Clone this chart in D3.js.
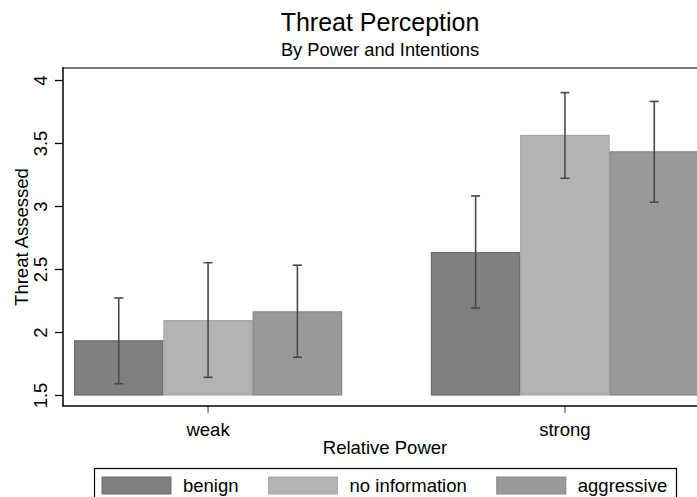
<!DOCTYPE html>
<html>
<head>
<meta charset="utf-8">
<script src="https://cdn.jsdelivr.net/npm/d3@7"></script>
<style>
  body { margin: 0; background: #fff; }
  svg { display: block; font-family: "Liberation Sans", Arial, sans-serif; }
</style>
</head>
<body>
<svg width="697" height="497"></svg>
<script>
// data
var groups = ["weak", "strong"];
var series = ["benign", "no information", "aggressive"];
var weakMean = [1.93, 2.09, 2.16];
var strongMean = [2.63, 3.56, 3.43];
var weakLow = [1.59, 1.64, 1.80];
var strongLow = [2.19, 3.22, 3.03];
var weakHigh = [2.27, 2.55, 2.53];
var strongHigh = [3.08, 3.90, 3.83];
var yTicks = [1.5, 2, 2.5, 3, 3.5, 4];

var fills = ["#808080", "#b3b3b3", "#999999"];
var strokes = ["#6c6c6c", "#a6a6a6", "#878787"];

var rows = [];
groups.forEach(function (g, gi) {
  var m = gi === 0 ? weakMean : strongMean;
  var lo = gi === 0 ? weakLow : strongLow;
  var hi = gi === 0 ? weakHigh : strongHigh;
  series.forEach(function (s, si) {
    rows.push({ group: g, series: s, i: si, mean: m[si], low: lo[si], high: hi[si] });
  });
});

var svg = d3.select("svg");
var plotLeft = 63, plotTop = 68, plotBottom = 406;

var y = d3.scaleLinear().domain([1.5, 4]).range([395, 80]);
var x = d3.scaleBand().domain(groups).range([63, 710])
  .paddingInner(0.249).paddingOuter(0.031);
var xs = d3.scaleBand().domain(series).range([0, x.bandwidth()]);
var color = d3.scaleOrdinal().domain(series).range(fills);
var edge = d3.scaleOrdinal().domain(series).range(strokes);

// frame top
svg.append("line")
  .attr("x1", plotLeft).attr("x2", 697).attr("y1", plotTop).attr("y2", plotTop)
  .attr("stroke", "#7a7a7a").attr("stroke-width", 2);

// bars
svg.append("g").selectAll("rect").data(rows).enter().append("rect")
  .attr("x", function (d) { return x(d.group) + xs(d.series) + 0.5; })
  .attr("width", xs.bandwidth() - 1)
  .attr("y", function (d) { return y(d.mean); })
  .attr("height", function (d) { return y(1.5) - y(d.mean); })
  .attr("fill", function (d) { return color(d.series); })
  .attr("stroke", function (d) { return edge(d.series); })
  .attr("stroke-width", 1.2);

// error bars
var eb = svg.append("g").attr("stroke", "#4a4a4a").attr("stroke-width", 1.6);
rows.forEach(function (d) {
  var cx = x(d.group) + xs(d.series) + xs.bandwidth() / 2;
  eb.append("line").attr("x1", cx).attr("x2", cx)
    .attr("y1", y(d.low)).attr("y2", y(d.high));
  eb.append("line").attr("x1", cx - 4.5).attr("x2", cx + 4.5)
    .attr("y1", y(d.low)).attr("y2", y(d.low));
  eb.append("line").attr("x1", cx - 4.5).attr("x2", cx + 4.5)
    .attr("y1", y(d.high)).attr("y2", y(d.high));
});

// y axis
var yAxis = svg.append("g").attr("transform", "translate(" + plotLeft + ",0)")
  .call(d3.axisLeft(y).tickValues(yTicks).tickSize(8).tickPadding(0)
    .tickFormat(d3.format("")));
yAxis.select(".domain").remove();
yAxis.selectAll(".tick line").attr("stroke", "#000").attr("stroke-width", 1.3);
yAxis.selectAll(".tick text").remove();
yAxis.selectAll(".tick").append("text")
  .attr("transform", "translate(-16,0) rotate(-90)")
  .attr("text-anchor", "middle")
  .attr("fill", "#000")
  .style("font-size", "18.5px")
  .text(function (d) { return d3.format("")(d); });
svg.append("line")
  .attr("x1", plotLeft).attr("x2", plotLeft).attr("y1", plotTop - 1).attr("y2", plotBottom)
  .attr("stroke", "#000").attr("stroke-width", 1.5);

// x axis
var xAxis = svg.append("g").attr("transform", "translate(0," + plotBottom + ")")
  .call(d3.axisBottom(x).tickSize(7).tickPadding(10));
xAxis.select(".domain").remove();
xAxis.selectAll(".tick line").attr("stroke", "#777").attr("stroke-width", 1.5);
xAxis.selectAll(".tick text").attr("fill", "#000").style("font-size", "18.5px")
  .attr("dy", "0.72em");
svg.append("line")
  .attr("x1", plotLeft - 0.75).attr("x2", 697).attr("y1", plotBottom).attr("y2", plotBottom)
  .attr("stroke", "#000").attr("stroke-width", 1.5);

// titles
svg.append("text").attr("x", 380).attr("y", 31).attr("text-anchor", "middle")
  .style("font-size", "25px").text("Threat Perception");
svg.append("text").attr("x", 380).attr("y", 56).attr("text-anchor", "middle")
  .style("font-size", "18.3px").text("By Power and Intentions");
svg.append("text").attr("x", 385).attr("y", 454).attr("text-anchor", "middle")
  .style("font-size", "18.5px").text("Relative Power");
svg.append("text")
  .attr("transform", "translate(28,237) rotate(-90)")
  .attr("text-anchor", "middle")
  .style("font-size", "18.5px").text("Threat Assessed");

// legend
var leg = svg.append("g");
leg.append("rect").attr("x", 94.5).attr("y", 468.5).attr("width", 582).attr("height", 40)
  .attr("fill", "#fff").attr("stroke", "#000").attr("stroke-width", 1.2);
var lx = 102;
series.forEach(function (s) {
  leg.append("rect").attr("x", lx).attr("y", 477).attr("width", 69).attr("height", 17)
    .attr("fill", color(s)).attr("stroke", edge(s)).attr("stroke-width", 1);
  var t = leg.append("text").attr("x", lx + 81).attr("y", 492)
    .style("font-size", "18.5px").text(s);
  lx = lx + 81 + t.node().getComputedTextLength() + 30;
});
</script>
</body>
</html>
